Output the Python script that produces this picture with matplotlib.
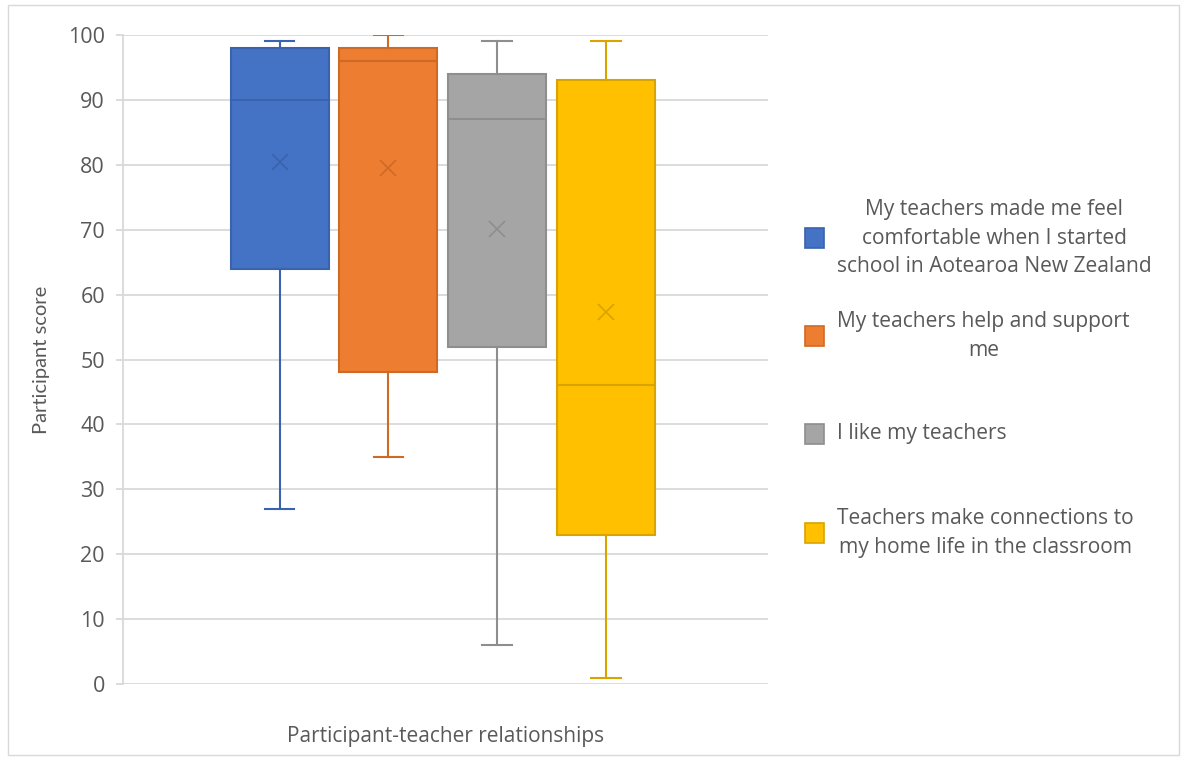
import matplotlib
matplotlib.use("Agg")
import matplotlib.pyplot as plt
from matplotlib.patches import Rectangle

plt.rcParams['font.family'] = ['Open Sans', 'DejaVu Sans']

categories = [
    "My teachers made me feel\ncomfortable when I started\nschool in Aotearoa New Zealand",
    "My teachers help and support\nme",
    "I like my teachers",
    "Teachers make connections to\nmy home life in the classroom",
]
whisker_low = [27, 35, 6, 1]
q1 = [64, 48, 52, 23]
median = [90, 96, 87, 46]
q3 = [98, 98, 94, 93]
whisker_high = [99, 100, 99, 99]
mean = [80.4, 79.5, 70.1, 57.3]
yticks = [0, 10, 20, 30, 40, 50, 60, 70, 80, 90, 100]

fills = ["#4472C4", "#ED7D31", "#A5A5A5", "#FFC000"]
edges = ["#3A63AD", "#CF6A26", "#8E8E8E", "#D9A300"]

W, H = 1186, 758
fig = plt.figure(figsize=(W / 100, H / 100), dpi=100)
ax = fig.add_axes([123 / W, 1 - 684 / H, (768 - 123) / W, (684 - 35) / H])

positions = [1, 2, 3, 4]
for i in range(4):
    st = [dict(whislo=whisker_low[i], q1=q1[i], med=median[i], q3=q3[i],
               whishi=whisker_high[i], mean=mean[i], fliers=[])]
    ax.bxp(st, positions=[positions[i]], widths=0.9, capwidths=0.27,
           showmeans=True, patch_artist=True,
           boxprops=dict(facecolor=fills[i], edgecolor=edges[i], linewidth=1.5),
           medianprops=dict(color=edges[i], linewidth=1.5),
           whiskerprops=dict(color=edges[i], linewidth=1.5),
           capprops=dict(color=edges[i], linewidth=1.5),
           meanprops=dict(marker='x', markeredgecolor=edges[i], markersize=11,
                          markeredgewidth=1.2), zorder=3)

ax.set_xlim(-0.44, 5.49)
ax.set_ylim(0, 100)
ax.set_yticks(yticks)
ax.set_xticks([])
ax.grid(axis='y', color='#D9D9D9', linewidth=1.3, zorder=0)
ax.set_axisbelow(True)
for s in ['top', 'right', 'bottom']:
    ax.spines[s].set_visible(False)
ax.spines['left'].set_color('#D9D9D9')
ax.spines['left'].set_linewidth(1.3)
ax.tick_params(axis='y', colors='#D9D9D9', length=5, width=1.3,
               labelcolor='#595959', labelsize=15.5, pad=8)
ax.set_ylabel("Participant score", fontsize=14.5, color='#595959', labelpad=13,
              family=['Lato', 'DejaVu Sans'])
ax.set_xlabel("Participant-teacher relationships", fontsize=15, color='#595959',
              labelpad=30)

# legend
leg_y = [238, 336, 434, 533]
for i in range(4):
    fig.patches.append(Rectangle((805 / W, 1 - (leg_y[i] + 10) / H), 19 / W, 20 / H,
                                 transform=fig.transFigure, facecolor=fills[i],
                                 edgecolor=edges[i], linewidth=1.2))
    fig.text(837 / W, 1 - leg_y[i] / H, categories[i], ha='left', va='center',
             multialignment='center', fontsize=15.1, color='#595959',
             linespacing=1.48)

# outer border
fig.patches.append(Rectangle((8 / W, 1 - 755 / H), (1179 - 8) / W, (755 - 5) / H,
                             transform=fig.transFigure, fill=False,
                             edgecolor='#D9D9D9', linewidth=1))

fig.savefig("out.png", dpi=100)
